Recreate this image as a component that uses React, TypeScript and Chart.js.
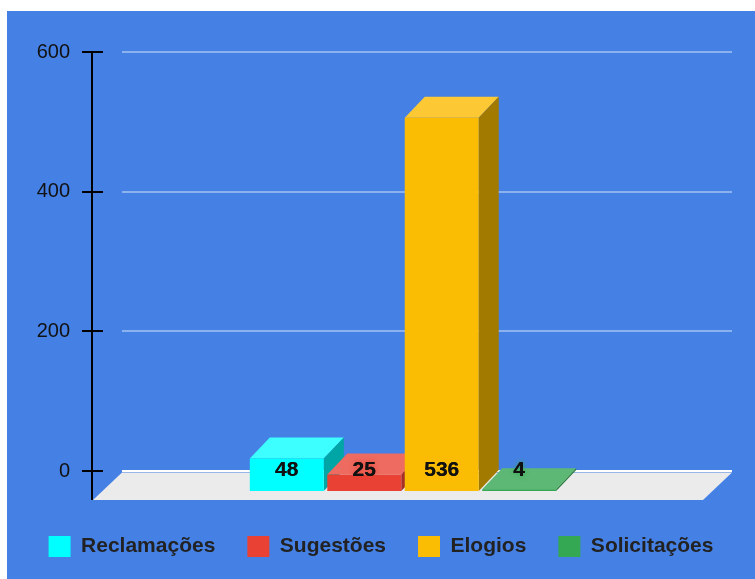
import React, { useEffect, useRef } from "react";
import { Chart, registerables } from "chart.js";

Chart.register(...registerables);

const categories = [""];
const seriesNames = ["Reclamações", "Sugestões", "Elogios", "Solicitações"];
const seriesValues = [48, 25, 536, 4];
const frontColors = ["#00ffff", "#e94235", "#fbbc04", "#34a853"];
const topColors = ["#3dffff", "#ed6b60", "#fcc934", "#5cb874"];
const sideColors = ["#00a6a6", "#a5302a", "#a37a00", "#257a3c"];
const yMin = 0;
const yMax = 600;
const yStep = 200;

const FONT = "'Liberation Sans', Arial, sans-serif";
const DEPTH_X = -20;
const DEPTH_Y = 21;
const FLOOR_DEPTH = 29;
const BAR_SHIFT = -4;

const prismPlugin = {
  id: "prism3d",
  beforeDatasetsDraw(chart: any) {
    const { ctx, chartArea } = chart;
    const y0 = chart.scales.y.getPixelForValue(0);
    ctx.save();
    ctx.fillStyle = "#ebebeb";
    ctx.beginPath();
    ctx.moveTo(chartArea.left, y0 + 1.5);
    ctx.lineTo(chartArea.right, y0 + 1.5);
    ctx.lineTo(chartArea.right - FLOOR_DEPTH, y0 + FLOOR_DEPTH);
    ctx.lineTo(chartArea.left - FLOOR_DEPTH, y0 + FLOOR_DEPTH);
    ctx.closePath();
    ctx.fill();
    ctx.restore();
  },
  beforeDatasetDraw() {
    return false;
  },
  afterDatasetsDraw(chart: any) {
    const { ctx } = chart;
    const y0 = chart.scales.y.getPixelForValue(0);
    chart.data.datasets.forEach((ds: any, di: number) => {
      const meta = chart.getDatasetMeta(di);
      meta.data.forEach((el: any, i: number) => {
        const p = el.getProps(["x", "y", "base", "width"], true);
        const L = p.x - p.width / 2 + BAR_SHIFT;
        const R = p.x + p.width / 2 + BAR_SHIFT;
        const T = p.y;
        const B = p.base;
        ctx.save();
        ctx.fillStyle = topColors[di];
        ctx.beginPath();
        ctx.moveTo(L, T);
        ctx.lineTo(R, T);
        ctx.lineTo(R + DEPTH_X, T + DEPTH_Y);
        ctx.lineTo(L + DEPTH_X, T + DEPTH_Y);
        ctx.closePath();
        ctx.fill();
        ctx.fillStyle = sideColors[di];
        ctx.beginPath();
        ctx.moveTo(R, T);
        ctx.lineTo(R, B);
        ctx.lineTo(R + DEPTH_X, B + DEPTH_Y);
        ctx.lineTo(R + DEPTH_X, T + DEPTH_Y);
        ctx.closePath();
        ctx.fill();
        ctx.fillStyle = frontColors[di];
        ctx.fillRect(L + DEPTH_X, T + DEPTH_Y, R - L, B - T);
        const cx = (L + R) / 2 + DEPTH_X;
        ctx.font = `bold 21px ${FONT}`;
        ctx.textAlign = "center";
        ctx.textBaseline = "middle";
        ctx.shadowColor = frontColors[di];
        ctx.shadowBlur = 5;
        ctx.fillStyle = "#111111";
        ctx.fillText(String(ds.data[i]), cx, y0 - 1);
        ctx.shadowBlur = 0;
        ctx.fillText(String(ds.data[i]), cx, y0 - 1);
        ctx.restore();
      });
    });
  },
  afterDraw(chart: any) {
    const { ctx, chartArea } = chart;
    const ys = chart.scales.y;
    const y0 = ys.getPixelForValue(0);
    const ax = chartArea.left - FLOOR_DEPTH - 1;
    ctx.save();
    ctx.strokeStyle = "#000000";
    ctx.lineWidth = 2;
    ctx.beginPath();
    ctx.moveTo(ax, ys.getPixelForValue(yMax));
    ctx.lineTo(ax, y0 + FLOOR_DEPTH);
    ctx.stroke();
    ys.ticks.forEach((t: any) => {
      const py = Math.round(ys.getPixelForValue(t.value));
      ctx.beginPath();
      ctx.moveTo(ax - 10, py);
      ctx.lineTo(ax + 11, py);
      ctx.stroke();
    });
    ctx.restore();
  },
};

export default function App() {
  const ref = useRef<HTMLCanvasElement>(null);
  useEffect(() => {
    if (!ref.current) return;
    const chart = new Chart(ref.current, {
      type: "bar",
      data: {
        labels: categories,
        datasets: seriesNames.map((name, i) => ({
          label: name,
          data: [seriesValues[i]],
          backgroundColor: frontColors[i],
          borderWidth: 0,
          barPercentage: 0.955,
          categoryPercentage: 0.508,
        })),
      },
      options: {
        animation: false,
        responsive: false,
        layout: { padding: { top: 41, left: 0, right: 0, bottom: 12 } },
        plugins: {
          tooltip: { enabled: false },
          legend: {
            position: "bottom",
            labels: {
              boxWidth: 22,
              boxHeight: 21,
              padding: 32,
              color: "#222222",
              font: { family: FONT, size: 21, weight: "bold" },
            },
          },
        },
        scales: {
          x: {
            display: true,
            grid: { display: false },
            border: { display: false },
            ticks: { display: false },
            afterFit: (s: any) => {
              s.height = 33;
            },
          },
          y: {
            min: yMin,
            max: yMax,
            ticks: {
              stepSize: yStep,
              padding: 0,
              color: "#111111",
              font: { family: FONT, size: 20 },
            },
            grid: {
              drawTicks: true,
              tickLength: 52,
              tickColor: "rgba(0,0,0,0)",
              color: (c: any) => (c.tick && c.tick.value === 0 ? "#ffffff" : "rgba(255,255,255,0.38)"),
              lineWidth: 2,
            },
            border: { display: false },
            afterFit: (s: any) => {
              s.width = 115;
            },
          },
          y2: {
            position: "right",
            display: true,
            grid: { display: false },
            border: { display: false },
            ticks: { display: false },
            afterFit: (s: any) => {
              s.width = 23;
            },
          },
        },
      },
      plugins: [prismPlugin],
    } as any);
    return () => chart.destroy();
  }, []);
  return (
    <div
      style={{
        position: "absolute",
        left: 7,
        top: 11,
        width: 748,
        height: 568,
        background: "#4581e5",
      }}
    >
      <canvas ref={ref} width={748} height={568} style={{ display: "block" }} />
    </div>
  );
}
